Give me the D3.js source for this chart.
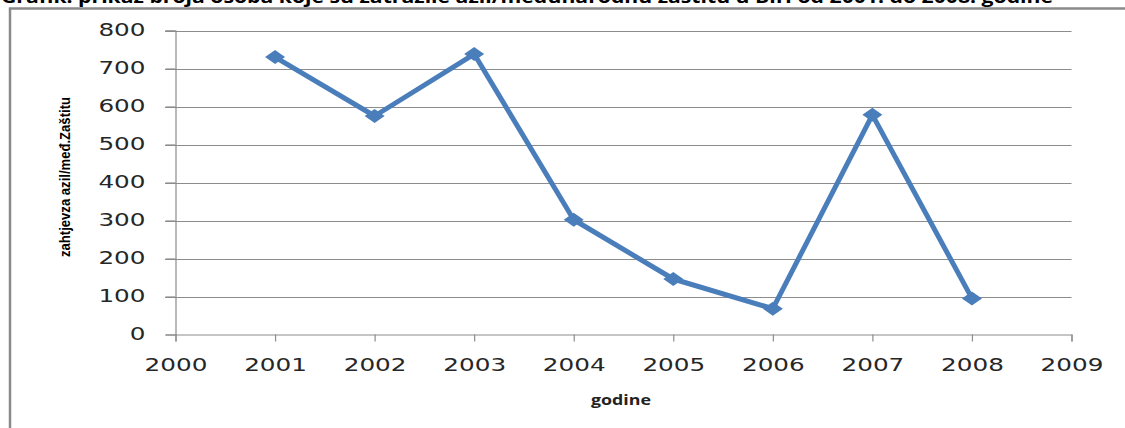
<!DOCTYPE html>
<html><head><meta charset="utf-8">
<script src="https://cdn.jsdelivr.net/npm/d3@7/dist/d3.min.js"></script>
<style>
html,body{margin:0;padding:0;background:#fff;overflow:hidden;}
</style></head>
<body>
<svg id="c" width="1125" height="428"></svg>
<script>
const years = [2001, 2002, 2003, 2004, 2005, 2006, 2007, 2008];
const values = [730, 575, 738, 302, 146, 68, 578, 95];
const xTicks = [2000, 2001, 2002, 2003, 2004, 2005, 2006, 2007, 2008, 2009];
const yTicks = [0, 100, 200, 300, 400, 500, 600, 700, 800];
const title = "Grafik: prikaz broja osoba koje su zatražile azil/međunarodnu zaštitu u BiH od 2001. do 2008. godine";
const yLabel = "zahtjevza azil/međ.Zaštitu";
const xLabel = "godine";

const svg = d3.select("#c");
const x = d3.scaleLinear().domain([2000, 2009]).range([175.5, 1071.5]);
const y = d3.scaleLinear().domain([0, 800]).range([334.5, 30.5]);

// title (cut off at top, as in the source)
svg.append("text").attr("x", 1).attr("y", 3)
  .attr("font-family", "'Open Sans', sans-serif").attr("font-weight", "bold")
  .attr("font-size", 17).attr("fill", "#000")
  .attr("textLength", 1052).attr("lengthAdjust", "spacingAndGlyphs")
  .text(title);

// frame
svg.append("path").attr("d", "M10,430 V8.5 H1130")
  .attr("fill", "none").attr("stroke", "#8a8a8a").attr("stroke-width", 2.5);

// gridlines
svg.append("g").selectAll("line").data(yTicks.filter(d => d > 0)).join("line")
  .attr("x1", 165).attr("x2", 1071.5)
  .attr("y1", d => Math.round(y(d)) + 0.5).attr("y2", d => Math.round(y(d)) + 0.5)
  .attr("stroke", "#8c8c8c").attr("stroke-width", 1.2);

const digitW = 15.7;

// y axis
const yAxis = svg.append("g").attr("transform", "translate(175.5,0)")
  .call(d3.axisLeft(y).tickValues(yTicks).tickSize(10).tickPadding(12));
yAxis.select(".domain").attr("stroke", "#8c8c8c").attr("stroke-width", 1.2);
yAxis.selectAll(".tick line").attr("stroke", "#8c8c8c").attr("stroke-width", 1.2);
yAxis.selectAll("text").attr("font-family", "'DejaVu Sans', Verdana, sans-serif")
  .attr("font-size", 17).attr("fill", "#262626").attr("x", -30)
  .attr("textLength", d => String(d).length * digitW)
  .attr("lengthAdjust", "spacingAndGlyphs");

// x axis
const xAxis = svg.append("g").attr("transform", "translate(0,334.5)")
  .call(d3.axisBottom(x).tickValues(xTicks).tickFormat(d3.format("d")).tickSizeOuter(0).tickSize(7).tickPadding(14));
xAxis.select(".domain").attr("stroke", "#8c8c8c").attr("stroke-width", 1.2);
xAxis.selectAll(".tick line").attr("stroke", "#8c8c8c").attr("stroke-width", 1.2);
xAxis.selectAll("text").attr("font-family", "'DejaVu Sans', Verdana, sans-serif")
  .attr("font-size", 17).attr("fill", "#262626").attr("y", 24)
  .attr("textLength", d => String(d).length * digitW)
  .attr("lengthAdjust", "spacingAndGlyphs");

// axis titles
svg.append("text").attr("transform", "translate(70,177) rotate(-90)")
  .attr("text-anchor", "middle").attr("font-family", "'Liberation Sans', sans-serif")
  .attr("font-weight", "bold").attr("font-size", 14).attr("fill", "#000")
  .attr("textLength", 160).attr("lengthAdjust", "spacingAndGlyphs")
  .text(yLabel);
svg.append("text").attr("x", 621).attr("y", 405)
  .attr("text-anchor", "middle").attr("font-family", "'Open Sans', sans-serif")
  .attr("font-weight", "bold").attr("font-size", 14).attr("fill", "#222")
  .attr("textLength", 60).attr("lengthAdjust", "spacingAndGlyphs")
  .text(xLabel);

// line
const color = "#4a7ebb";
const data = years.map((d, i) => ({year: d, value: values[i]}));
svg.append("path").datum(data)
  .attr("d", d3.line().x(d => x(d.year)).y(d => y(d.value)))
  .attr("fill", "none").attr("stroke", color).attr("stroke-width", 5)
  .attr("stroke-linejoin", "round");

// diamond markers
svg.append("g").selectAll("path").data(data).join("path")
  .attr("transform", d => `translate(${x(d.year)},${y(d.value)})`)
  .attr("d", "M-10,0 L0,-7 L10,0 L0,7 Z")
  .attr("fill", color);
</script>
</body></html>
